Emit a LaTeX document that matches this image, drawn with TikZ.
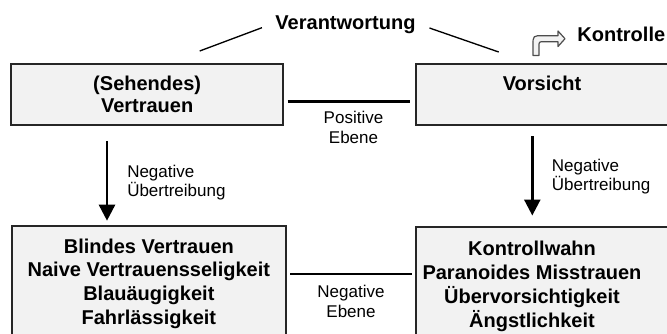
\documentclass[tikz,border=0pt]{standalone}
\usepackage{fontspec}
\setmainfont{Liberation Sans}
\usetikzlibrary{arrows.meta}
\definecolor{boxfill}{HTML}{F2F2F2}
\definecolor{boxline}{HTML}{262626}
\definecolor{bendline}{HTML}{4D4D4D}
\begin{document}
\begin{tikzpicture}[x=0.75pt,y=-0.75pt,
  box/.style={draw=boxline, line width=1.5pt, fill=boxfill, inner sep=0pt, align=center,
    font=\fontsize{15}{16.8}\selectfont\bfseries},
  bigbox/.style={box, font=\fontsize{15}{17.7}\selectfont\bfseries},
  btxt/.style={inner sep=0pt, align=center, font=\fontsize{15}{17.9}\selectfont\bfseries},
  lbl/.style={inner sep=0pt, font=\fontsize{12.75}{13.2}\selectfont},
  lvl/.style={inner sep=0pt, align=center, font=\fontsize{12.75}{15}\selectfont},
  conn/.style={line width=2pt, black},
  thinconn/.style={line width=1pt, black},
  downarrow/.style={line width=1.9pt, black, -{Triangle[width=12pt,length=12pt]}},
  bendarrow/.style={draw=bendline, fill=boxfill, line width=0.9pt, line join=round}
]
\useasboundingbox (0,0) rectangle (667,333);

% boxes
\node[box, minimum width=203.8pt, minimum height=45.6pt] (tl) at (147.15,94.6) {(Sehendes)\\Vertrauen};
\node[box, minimum width=189.6pt, minimum height=45.6pt] (tr) at (542.1,94.6) {Vorsicht\\\phantom{Vorsicht}};
\node[bigbox, minimum width=205.3pt, minimum height=86.25pt] (bl) at (148.85,283.5)
  {Blindes Vertrauen\\Naive Vertrauensseligkeit\\Blauäugigkeit\\Fahrlässigkeit};
\node[bigbox, minimum width=205.7pt, minimum height=85.7pt] (br) at (552.85,283.85) {};
\node[btxt, font=\fontsize{15}{17.9}\selectfont\bfseries] (brt) at (532,286.2)
  {Kontrollwahn\\Paranoides Misstrauen\\Übervorsichtigkeit\\Ängstlichkeit};

% top labels
\node[btxt] (v) at (345.5,24.6) {Verantwortung};
\node[btxt] (k) at (621.3,34.2) {Kontrolle};
\coordinate (vl) at (199.7,51);
\coordinate (vr) at (498.7,52);
\draw[thinconn] (vl) -- ([shift={(-13.3,3.1)}]v.west);
\draw[thinconn] ([shift={(13.7,3.4)}]v.east) -- (vr);

% bent block arrow
\path[bendarrow] (533,55.5) -- (533,45) .. controls (533,35.7) .. (543,35.7) -- (558,35.7)
  -- (558,31) -- (565,38.7) -- (558,46.5) -- (558,41.7) -- (544,41.7)
  .. controls (539,41.7) .. (539,46.5) -- (539,55.5) -- cycle;

% level connectors
\draw[conn] ([shift={(3.7,7.1)}]tl.east) -- ([shift={(-4.7,7.1)}]tr.west);
\node[lvl] (pe) at (353.5,127) {Positive\\Ebene};
\draw[conn] ([shift={(3.3,-9.5)}]bl.east) -- ([shift={(-2.4,-9.85)}]br.west);
\node[lvl] (ne) at (351,301.7) {Negative\\Ebene};

% exaggeration arrows
\draw[downarrow] ([shift={(-40.15,14.9)}]tl.south) -- ([shift={(-41.85,-4.3)}]bl.north);
\node[lbl, anchor=west, align=left] (lu) at (127,182.4) {Negative\\Übertreibung};
\draw[downarrow] ([shift={(-9.8,10.4)}]tr.south) -- ([shift={(-20.55,-10.2)}]br.north);
\node[lbl, anchor=west, align=left] (ru) at (551.7,177) {Negative\\Übertreibung};
\end{tikzpicture}
\end{document}
